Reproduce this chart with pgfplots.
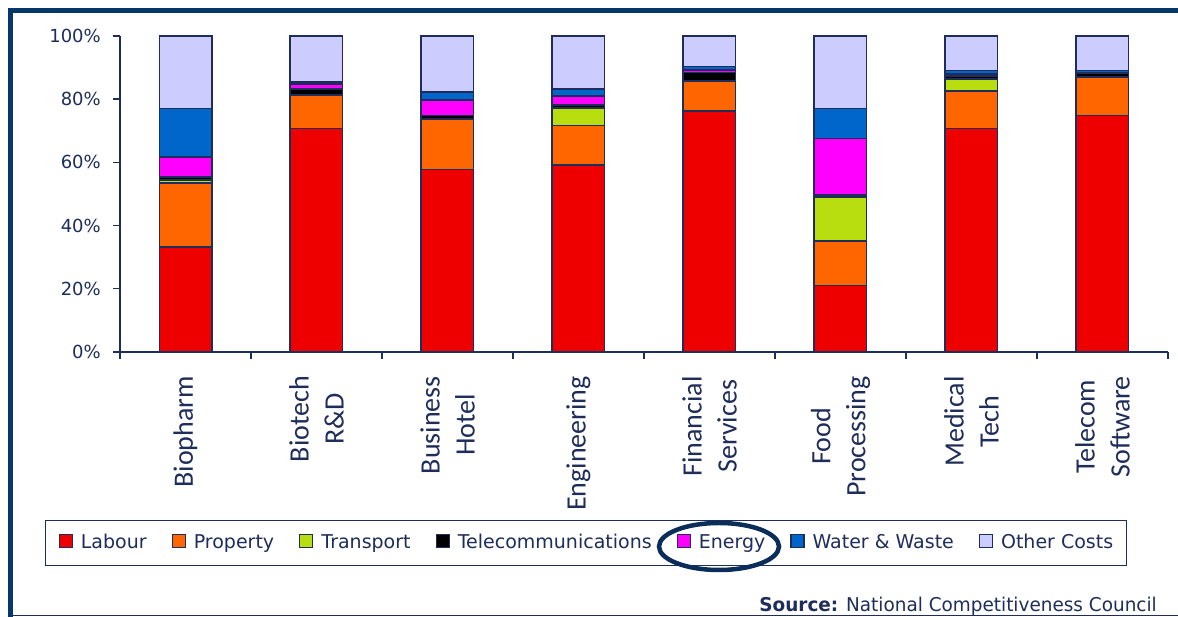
\documentclass[border=0pt]{standalone}
\usepackage{pgfplots}
\usepackage{pgfplotstable}
\pgfplotsset{compat=1.18}
\usepackage{fontspec}
\setmainfont{DejaVu Sans}
\newfontfamily\catfont{Carlito}

\definecolor{navy}{RGB}{30,45,90}
\definecolor{framec}{RGB}{5,55,105}
\definecolor{ellc}{RGB}{10,45,90}
\definecolor{labour}{RGB}{238,0,0}
\definecolor{property}{RGB}{255,102,0}
\definecolor{transport}{RGB}{185,222,16}
\definecolor{telecom}{RGB}{0,0,0}
\definecolor{energy}{RGB}{255,0,255}
\definecolor{water}{RGB}{0,102,204}
\definecolor{other}{RGB}{204,204,255}

% share of total cost, %
\pgfplotstableread{
x labour property transport telecom energy water other
0 33.2 20.3 0.9 1.0 6.3 15.3 23.0
1 70.7 10.5 0.2 1.9 1.5 0.6 14.6
2 57.8 15.8 0.3 1.0 4.8 2.6 17.7
3 59.1 12.6 5.6 0.8 3.0 2.2 16.7
4 76.2 9.5 0.2 2.6 0.7 1.2 9.6
5 21.1 14.1 13.9 0.5 17.9 9.5 23.0
6 70.7 11.9 3.8 0.9 0.7 1.1 10.9
7 74.9 12.1 0.2 1.0 0.3 0.6 10.9
}\costs

\begin{document}
\begin{tikzpicture}[x=1pt,y=1pt]
\begin{axis}[
    at={(120pt,265pt)}, anchor=south west,
    scale only axis, width=1048pt, height=316pt,
    ybar stacked, bar width=0.4,
    xmin=-0.5, xmax=7.5, ymin=0, ymax=100,
    axis lines*=left,
    axis line style={navy, line width=1.4pt},
    tick align=outside, major tick length=7pt,
    tick style={navy, line width=1.4pt},
    ytick={0,20,...,100},
    yticklabels={0\%,20\%,40\%,60\%,80\%,100\%},
    yticklabel style={font=\fontsize{18}{20}\selectfont, text=navy, inner sep=0pt, xshift=-12pt},
    xtick={-0.5,0.5,...,7.5}, xticklabels={},
    extra x ticks={0,1,...,7},
    extra x tick labels={Biopharm,{Biotech\\R\&D},{Business\\Hotel},Engineering,{Financial\\Services},{Food\\Processing},{Medical\\Tech},{Telecom\\Software}},
    extra x tick style={major tick length=0pt,
        xticklabel style={yshift=-24pt, rotate=90, anchor=east, align=center, inner sep=0pt,
            font=\catfont\fontsize{28}{35}\selectfont, text=navy}},
    every axis plot/.append style={draw=navy, line width=1.6pt},
    legend columns=7,
    legend style={at={(axis description cs:-0.0716,-0.5316)}, anchor=north west,
        draw=navy, line width=1.4pt, inner xsep=13pt, inner ysep=13pt,
        font=\fontsize{19}{22}\selectfont, text=navy,
        nodes={inner sep=0pt, anchor=base west, text height=14pt, text depth=4pt},
        /tikz/every odd column/.append style={column sep=8pt},
        /tikz/every even column/.append style={column sep=25pt}},
    legend image code/.code={\draw[#1, draw=navy, line width=1.2pt] (0pt,1.5pt) rectangle (13pt,14.5pt);},
]
\addplot[fill=labour] table[x=x, y=labour] {\costs};
\addplot[fill=property] table[x=x, y=property] {\costs};
\addplot[fill=transport] table[x=x, y=transport] {\costs};
\addplot[fill=telecom] table[x=x, y=telecom] {\costs};
\addplot[fill=energy] table[x=x, y=energy] {\costs};
\addplot[fill=water] table[x=x, y=water] {\costs};
\addplot[fill=other] table[x=x, y=other] {\costs};
\legend{Labour,Property,Transport,Telecommunications,Energy,Water \& Waste,Other Costs}
\end{axis}
\draw[ellc, line width=4.5pt] (719pt,70.5pt) ellipse [x radius=60pt, y radius=23.5pt];
\draw[navy, line width=1.5pt] (10pt,1.5pt) -- (1178pt,1.5pt);
\node[anchor=base east, inner sep=0pt, text=navy, font=\fontsize{19}{22}\selectfont, xscale=0.97]
    at (1157pt,5pt) {\textbf{Source:} National Competitiveness Council};
\draw[framec, line width=5pt, line join=miter] (10.5pt,-5pt) -- (10.5pt,606.2pt) -- (1185pt,606.2pt);
\pgfresetboundingbox
\useasboundingbox (0,0) rectangle (1178pt,617pt);
\end{tikzpicture}
\end{document}
